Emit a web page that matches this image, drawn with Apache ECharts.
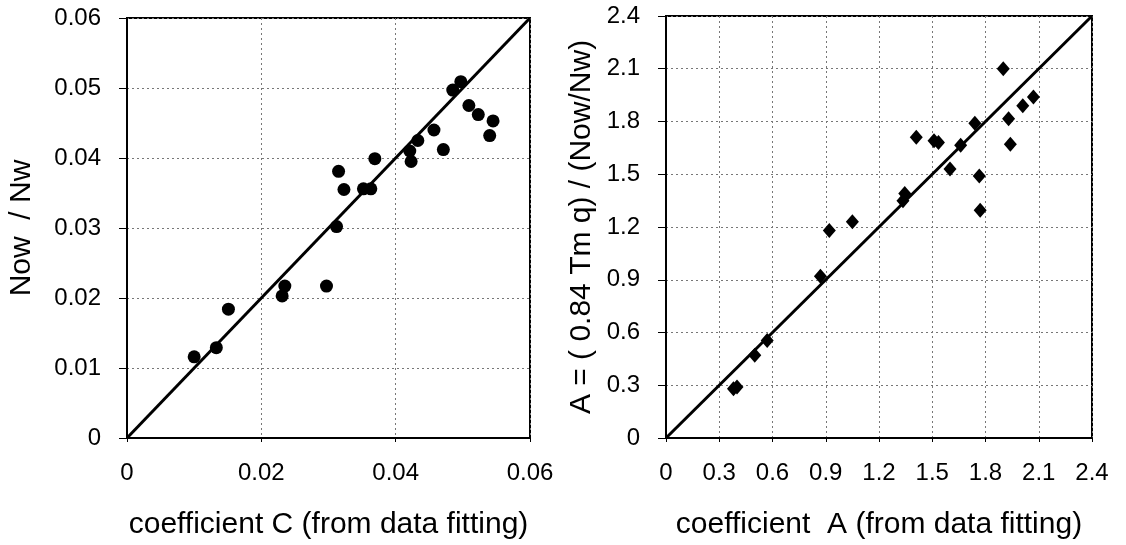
<!DOCTYPE html>
<html>
<head>
<meta charset="utf-8">
<script src="https://cdn.jsdelivr.net/npm/echarts@6/dist/echarts.min.js"></script>
<style>
  html, body { margin: 0; padding: 0; background: #fff; }
  #main { width: 1126px; height: 545px; }
</style>
</head>
<body>
<div id="main"></div>
<script>
// left panel: coefficient C vs Now/Nw
const pointsC = [
  [0.0100, 0.0116], [0.0133, 0.0129], [0.0151, 0.0184], [0.0231, 0.0203],
  [0.0235, 0.0217], [0.0297, 0.0217], [0.0312, 0.0302], [0.0315, 0.0381],
  [0.0323, 0.0355], [0.0352, 0.0356], [0.0363, 0.0356], [0.0369, 0.0399],
  [0.0421, 0.0410], [0.0423, 0.0395], [0.0433, 0.0425], [0.0457, 0.0440],
  [0.0471, 0.0412], [0.0485, 0.0497], [0.0497, 0.0509], [0.0509, 0.0475],
  [0.0523, 0.0462], [0.0545, 0.0453], [0.0540, 0.0432]
];
const lineC = [[0, 0], [0.06, 0.06]];
const xTicksC = ['0', '0.02', '0.04', '0.06'];
const yTicksC = ['0', '0.01', '0.02', '0.03', '0.04', '0.05', '0.06'];

// right panel: coefficient A vs A computed
const pointsA = [
  [0.38, 0.28], [0.40, 0.29], [0.50, 0.47], [0.57, 0.555], [0.87, 0.92],
  [0.92, 1.18], [1.05, 1.23], [1.335, 1.35], [1.345, 1.39], [1.41, 1.71],
  [1.51, 1.69], [1.535, 1.68], [1.60, 1.53], [1.66, 1.665], [1.74, 1.79],
  [1.765, 1.49], [1.77, 1.295], [1.90, 2.10], [1.93, 1.815], [1.94, 1.67],
  [2.01, 1.89], [2.07, 1.94]
];
const lineA = [[0, 0], [2.4, 2.4]];
const ticksA = ['0', '0.3', '0.6', '0.9', '1.2', '1.5', '1.8', '2.1', '2.4'];

const FONT = '"Liberation Sans", Arial, sans-serif';

const gridLine = { show: true, lineStyle: { color: '#777', width: 1, type: [2, 3] } };
const axLine = { show: true, onZero: false, lineStyle: { color: '#000', width: 2 } };

function xAxisOf(gridIndex, max, step, labels, name) {
  return {
    type: 'value', gridIndex: gridIndex, min: 0, max: max, interval: step,
    name: name, nameLocation: 'middle', nameGap: 72,
    nameTextStyle: { fontFamily: FONT, fontSize: 30, color: '#000' },
    axisLine: axLine,
    axisTick: { show: true, length: 4, lineStyle: { color: '#000' } },
    axisLabel: {
      margin: 23, fontFamily: FONT, fontSize: 24, color: '#000',
      formatter: v => labels[Math.round(v / step)]
    },
    splitLine: gridLine
  };
}

function yAxisOf(gridIndex, max, step, labels, name, gap) {
  return {
    type: 'value', gridIndex: gridIndex, min: 0, max: max, interval: step,
    name: name, nameLocation: 'middle', nameGap: gap,
    nameTextStyle: { fontFamily: FONT, fontSize: 30, color: '#000' },
    axisLine: axLine,
    axisTick: { show: true, length: 8, lineStyle: { color: '#000' } },
    axisLabel: {
      margin: 26, fontFamily: FONT, fontSize: 24, color: '#000',
      formatter: v => labels[Math.round(v / step)]
    },
    splitLine: gridLine
  };
}

const chart = echarts.init(document.getElementById('main'));
chart.setOption({
  animation: false,
  backgroundColor: '#fff',
  grid: [
    { left: 127, top: 18, width: 403, height: 425, show: true, borderColor: '#000', borderWidth: 2 },
    { left: 666, top: 16, width: 426, height: 427, show: true, borderColor: '#000', borderWidth: 2 }
  ],
  xAxis: [
    xAxisOf(0, 0.06, 0.02, xTicksC, 'coefficient C (from data fitting)'),
    xAxisOf(1, 2.4, 0.3, ticksA, 'coefficient  A (from data fitting)')
  ],
  yAxis: [
    yAxisOf(0, 0.06, 0.01, yTicksC, 'Now  / Nw', 90),
    yAxisOf(1, 2.4, 0.3, ticksA, 'A = ( 0.84 Tm q) / (Now/Nw)', 69)
  ],
  series: [
    {
      type: 'line', xAxisIndex: 0, yAxisIndex: 0, data: lineC, symbol: 'none',
      lineStyle: { color: '#000', width: 3 }, z: 2
    },
    {
      type: 'scatter', xAxisIndex: 0, yAxisIndex: 0, data: pointsC,
      symbol: 'circle', symbolSize: 13, itemStyle: { color: '#000', opacity: 1 }, z: 3
    },
    {
      type: 'line', xAxisIndex: 1, yAxisIndex: 1, data: lineA, symbol: 'none',
      lineStyle: { color: '#000', width: 3 }, z: 2
    },
    {
      type: 'scatter', xAxisIndex: 1, yAxisIndex: 1, data: pointsA,
      symbol: 'diamond', symbolSize: [13, 15], itemStyle: { color: '#000', opacity: 1 }, z: 3
    }
  ]
});
</script>
</body>
</html>
